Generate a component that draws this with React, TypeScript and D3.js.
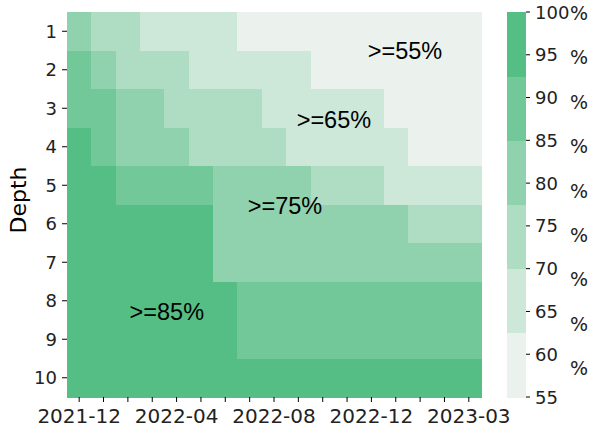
import React from "react";
import * as d3 from "d3";

const months = [
  "2021-12", "2022-01", "2022-02", "2022-03", "2022-04", "2022-05", "2022-06", "2022-07",
  "2022-08", "2022-09", "2022-10", "2022-11", "2022-12", "2023-01", "2023-02", "2023-02", "2023-03",
];
const depths = [1, 2, 3, 4, 5, 6, 7, 8, 9, 10];

const depth1 = [81, 73, 73, 66, 66, 66, 66, 58, 58, 58, 58, 58, 58, 58, 58, 58, 58];
const depth2 = [88, 81, 73, 73, 73, 66, 66, 66, 66, 66, 58, 58, 58, 58, 58, 58, 58];
const depth3 = [88, 88, 81, 81, 73, 73, 73, 73, 66, 66, 66, 66, 66, 58, 58, 58, 58];
const depth4 = [96, 88, 81, 81, 81, 73, 73, 73, 73, 66, 66, 66, 66, 66, 58, 58, 58];
const depth5 = [96, 96, 88, 88, 88, 88, 81, 81, 81, 81, 73, 73, 73, 66, 66, 66, 66];
const depth6 = [96, 96, 96, 96, 96, 96, 81, 81, 81, 81, 81, 81, 81, 81, 73, 73, 73];
const depth7 = [96, 96, 96, 96, 96, 96, 81, 81, 81, 81, 81, 81, 81, 81, 81, 81, 81];
const depth8 = [96, 96, 96, 96, 96, 96, 96, 88, 88, 88, 88, 88, 88, 88, 88, 88, 88];
const depth9 = [96, 96, 96, 96, 96, 96, 96, 88, 88, 88, 88, 88, 88, 88, 88, 88, 88];
const depth10 = [96, 96, 96, 96, 96, 96, 96, 96, 96, 96, 96, 96, 96, 96, 96, 96, 96];
const matrix = [depth1, depth2, depth3, depth4, depth5, depth6, depth7, depth8, depth9, depth10];

const levelBounds = [55, 62.5, 70, 77.5, 85, 92.5, 100];
const palette = ["#ebf1ed", "#cde7d8", "#afddc3", "#91d2ae", "#73c899", "#55be84"];
const cbarTicks = [55, 60, 65, 70, 75, 80, 85, 90, 95, 100];
const pctMarks = [100, 95, 90, 85, 80, 75, 70, 65, 60];

const annotations = [
  { label: ">=55%", col: 13.88, row: 1.0 },
  { label: ">=65%", col: 10.96, row: 2.8 },
  { label: ">=75%", col: 8.95, row: 5.03 },
  { label: ">=85%", col: 4.1, row: 7.78 },
];

const W = 597, H = 432;
const left = 67, right = 481, top = 12, bottom = 397;
const tickFont = "'DejaVu Sans', sans-serif";

export default function App() {
  const colIdx = months.map((_, i) => i);
  const x = d3.scaleBand<number>().domain(colIdx).range([left, right]);
  const y = d3.scaleBand<number>().domain(depths).range([top, bottom]);
  const xLin = d3.scaleLinear().domain([0, months.length]).range([left, right]);
  const yLin = d3.scaleLinear().domain([0, depths.length]).range([top, bottom]);
  const color = d3.scaleThreshold<number, string>().domain(levelBounds.slice(1, -1)).range(palette);
  const cy = d3.scaleLinear().domain([55, 100]).range([bottom, top]);
  const cbL = 507, cbR = 526;

  return (
    <svg width={W} height={H} style={{ position: "absolute", left: 0, top: 0, background: "#fff" }}>
      <g shapeRendering="crispEdges">
        {matrix.map((row, r) =>
          row.map((v, c) => (
            <rect key={`${r}-${c}`} x={x(c)} y={y(depths[r])} width={x.bandwidth() + 0.5}
              height={y.bandwidth() + 0.5} fill={color(v)} />
          ))
        )}
      </g>
      {annotations.map((a) => (
        <text key={a.label} x={xLin(a.col)} y={yLin(a.row)} textAnchor="middle" dominantBaseline="central"
          fontFamily="'Liberation Sans', Arial, sans-serif" fontSize={23.5} fill="#000">{a.label}</text>
      ))}
      {/* y axis */}
      {depths.map((d) => {
        const yy = (y(d) as number) + y.bandwidth() / 2;
        return (
          <g key={d}>
            <line x1={left - 5} x2={left} y1={yy} y2={yy} stroke="#000" strokeWidth={1} />
            <text x={57} y={yy} textAnchor="end" dominantBaseline="central" fontFamily={tickFont}
              fontSize={18} fill="#222">{d}</text>
          </g>
        );
      })}
      <text transform={`translate(26,200) rotate(-90)`} textAnchor="middle" fontFamily={tickFont}
        fontSize={22} fill="#000">Depth</text>
      {/* x axis */}
      {colIdx.map((c) => {
        const xx = (x(c) as number) + x.bandwidth() / 2;
        return (
          <g key={c}>
            <line x1={xx} x2={xx} y1={bottom} y2={bottom + 5} stroke="#000" strokeWidth={1} />
            {c % 4 === 0 && (
              <text x={xx} y={423} textAnchor="middle" fontFamily={tickFont} fontSize={20} fill="#222">
                {months[c]}
              </text>
            )}
          </g>
        );
      })}
      {/* colorbar */}
      <g shapeRendering="crispEdges">
        {palette.map((p, i) => (
          <rect key={p} x={cbL} width={cbR - cbL} y={cy(levelBounds[i + 1])}
            height={cy(levelBounds[i]) - cy(levelBounds[i + 1]) + 0.5} fill={p} />
        ))}
      </g>
      {cbarTicks.map((t) => (
        <g key={t}>
          <line x1={cbR} x2={cbR + 4} y1={cy(t)} y2={cy(t)} stroke="#000" strokeWidth={1} />
          <text x={535} y={cy(t)} dominantBaseline="central" fontFamily={tickFont} fontSize={18} fill="#222">{t}</text>
        </g>
      ))}
      {pctMarks.map((p, i) => (
        <text key={`pct${p}`} x={570} y={13 + i * 44.4} dominantBaseline="central" fontFamily={tickFont}
          fontSize={19} fill="#222">%</text>
      ))}
    </svg>
  );
}
